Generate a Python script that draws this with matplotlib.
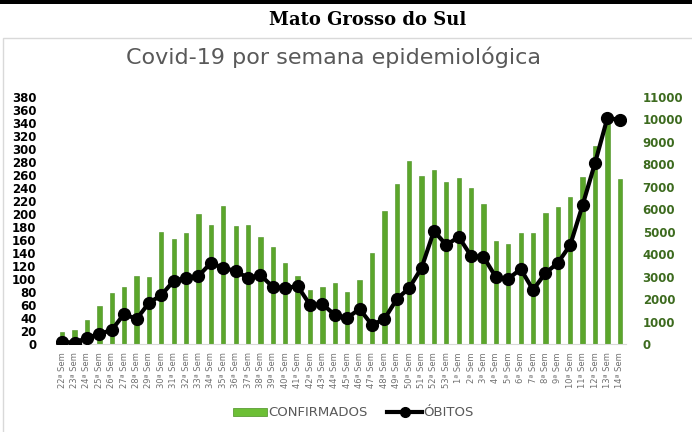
import matplotlib.pyplot as plt
from matplotlib.lines import Line2D
from matplotlib.patches import Patch, Rectangle

# semanas epidemiológicas (2020: 22-53, 2021: 1-14)
semanas = [f"{i}ª Sem" for i in range(22, 54)] + [f"{i}ª Sem" for i in range(1, 15)]

confirmados = [18, 22, 37, 58, 78, 88, 105, 103, 172, 162, 171, 200, 183, 212,
               182, 183, 165, 149, 125, 105, 83, 88, 94, 80, 98, 140, 204, 246,
               281, 259, 268, 249, 255, 240, 215, 159, 154, 171, 171, 201, 211,
               226, 257, 305, 350, 254]

obitos = [90, 60, 270, 450, 620, 1340, 1110, 1830, 2180, 2810, 2940, 3030, 3610,
          3390, 3250, 2940, 3070, 2540, 2490, 2580, 1740, 1780, 1290, 1160, 1560,
          850, 1110, 2000, 2490, 3390, 5030, 4410, 4770, 3920, 3880, 2980, 2900,
          3340, 2410, 3160, 3610, 4410, 6190, 8060, 10070, 9980]

ticks_esq = list(range(0, 381, 20))
ticks_dir = list(range(0, 11001, 1000))

fig = plt.figure(figsize=(6.92, 4.32), dpi=100)

# linha preta no topo e moldura do gráfico
fig.add_artist(Rectangle((0, 1 - 4 / 432), 1, 4 / 432, transform=fig.transFigure,
                         color="black", lw=0))
fig.add_artist(Rectangle((3 / 692, -0.01), 1, 1 - 38 / 432 + 0.01,
                         transform=fig.transFigure, fill=False,
                         edgecolor="#d9d9d9", lw=1))

fig.text(368 / 692, 1 - 20 / 432, "Mato Grosso do Sul", ha="center", va="center",
         fontsize=13, fontweight="bold", family="DejaVu Serif", color="black")
fig.text(333 / 692, 1 - 57 / 432, "Covid-19 por semana epidemiológica",
         ha="center", va="center", fontsize=16, color="#595959")

ax = fig.add_axes([56 / 692, 1 - 344 / 432, 570 / 692, 247 / 432])
x = list(range(len(semanas)))
ax.bar(x, confirmados, width=0.35, color="#5ba62b", edgecolor="#4a8f22", lw=0.4)
ax.set_xlim(-0.5, len(semanas) - 0.5)
ax.set_ylim(0, 380)
ax.set_yticks(ticks_esq)
ax.tick_params(axis="y", length=0, pad=14, labelsize=8.5)
for t in ax.get_yticklabels():
    t.set_fontweight("bold")
ax.set_xticks(x)
ax.set_xticklabels(semanas, rotation=90, fontsize=6, color="#707070")
ax.tick_params(axis="x", length=0, pad=6)
for s in ["top", "left", "right"]:
    ax.spines[s].set_visible(False)
ax.spines["bottom"].set_color("#d9d9d9")

ax2 = ax.twinx()
ax2.plot(x, obitos, color="black", lw=3, marker="o", markersize=8.5, zorder=3)
ax2.set_ylim(0, 11000)
ax2.set_yticks(ticks_dir)
ax2.tick_params(axis="y", length=0, pad=12, labelsize=8.5, colors="#3d6b1f")
for t in ax2.get_yticklabels():
    t.set_fontweight("bold")
for s in ["top", "left", "right", "bottom"]:
    ax2.spines[s].set_visible(False)

handles = [Patch(facecolor="#6cbf35", edgecolor="#4a8f22", lw=0.5),
           Line2D([0], [0], color="black", lw=3, marker="o", markersize=7)]
fig.legend(handles, ["CONFIRMADOS", "ÓBITOS"], loc="center",
           bbox_to_anchor=(353 / 692, 1 - 413 / 432), ncol=2, frameon=False,
           fontsize=9.5, labelcolor="#595959", handlelength=2.6, handleheight=0.6,
           handletextpad=0.1, columnspacing=1.5)

fig.savefig("out.png", dpi=100)
